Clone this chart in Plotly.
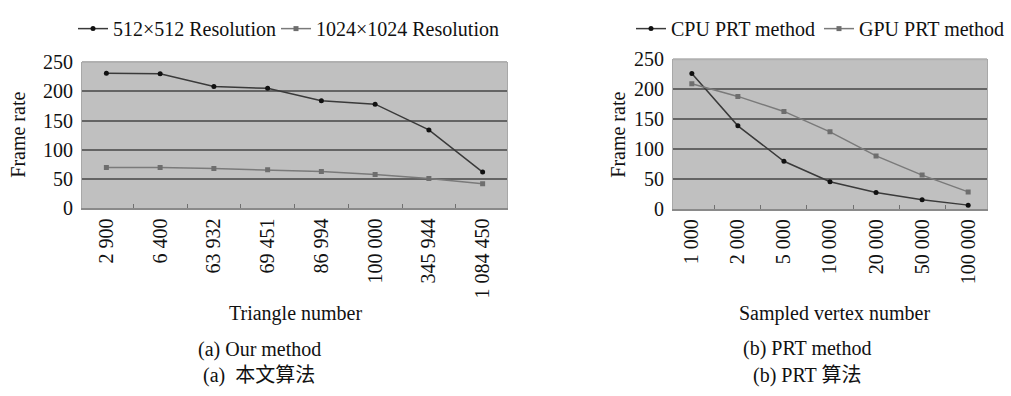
import plotly.graph_objects as go

W, H = 1011, 396

# ---- data ----
tri_labels = ["2 900", "6 400", "63 932", "69 451", "86 994", "100 000", "345 944", "1 084 450"]
res512 = [231, 230, 208, 205, 184, 178, 134, 62]
res1024 = [70, 70, 68, 66, 63, 58, 51, 42]

vtx_labels = ["1 000", "2 000", "5 000", "10 000", "20 000", "50 000", "100 000"]
cpu_prt = [226, 139, 80, 46, 28, 16, 7]
gpu_prt = [209, 188, 163, 129, 89, 57, 29]

FONT = "Liberation Serif, Times New Roman, Noto Sans CJK SC, serif"
DARK = "#3a3a3a"
LIGHT = "#7a7a7a"

def px(x):
    return x / W

def py(y):
    return 1 - y / H

fig = go.Figure()

fig.add_trace(go.Scatter(x=tri_labels, y=res512, mode="lines+markers", name="512×512 Resolution",
                         line=dict(color=DARK, width=1.5), marker=dict(symbol="circle", size=5, color="#111"),
                         xaxis="x", yaxis="y", legend="legend"))
fig.add_trace(go.Scatter(x=tri_labels, y=res1024, mode="lines+markers", name="1024×1024 Resolution",
                         line=dict(color=LIGHT, width=1.5), marker=dict(symbol="square", size=5, color="#6e6e6e"),
                         xaxis="x", yaxis="y", legend="legend3"))
fig.add_trace(go.Scatter(x=vtx_labels, y=cpu_prt, mode="lines+markers", name="CPU PRT method",
                         line=dict(color=DARK, width=1.5), marker=dict(symbol="circle", size=5, color="#111"),
                         xaxis="x2", yaxis="y2", legend="legend2"))
fig.add_trace(go.Scatter(x=vtx_labels, y=gpu_prt, mode="lines+markers", name="GPU PRT method",
                         line=dict(color=LIGHT, width=1.5), marker=dict(symbol="square", size=5, color="#6e6e6e"),
                         xaxis="x2", yaxis="y2", legend="legend4"))

xcommon = dict(type="category", showgrid=False, showline=True, linecolor="#8a8a8a", linewidth=2,
               mirror=False, ticks="inside", tickson="boundaries", ticklen=4, tickcolor="#707070",
               tickangle=-90, tickfont=dict(family=FONT, size=20, color="#111"), zeroline=False)
ycommon = dict(range=[0, 250], dtick=50, showgrid=True, gridcolor="#646464", gridwidth=1.5,
               showline=True, mirror=True, linecolor="#a8a8a8", linewidth=1,
               zeroline=False, ticks="", ticklabelstandoff=4,
               tickfont=dict(family=FONT, size=20, color="#111"))

def leg(x):
    return dict(orientation="h", x=px(x), y=py(-2), xanchor="left", yanchor="top",
                font=dict(family=FONT, size=20, color="#111"), itemwidth=30,
                bgcolor="rgba(0,0,0,0)", borderwidth=0)

fig.update_layout(
    width=W, height=H, margin=dict(l=0, r=0, t=0, b=0),
    paper_bgcolor="white", plot_bgcolor="#c0c0c0",
    showlegend=True,
    xaxis=dict(domain=[px(82), px(507)], anchor="y", **xcommon),
    yaxis=dict(domain=[py(209), py(54)], anchor="x", **ycommon),
    xaxis2=dict(domain=[px(673), px(987)], anchor="y2", **xcommon),
    yaxis2=dict(domain=[py(210), py(51)], anchor="x2", **ycommon),
    legend=leg(73),
    legend3=leg(276),
    legend2=leg(631),
    legend4=leg(819),
)

# light top edge of each plot area (covers the 250 grid line)
for xr, yr in (("x domain", "y domain"), ("x2 domain", "y2 domain")):
    fig.add_shape(type="line", xref=xr, yref=yr, x0=0, x1=1, y0=1, y1=1,
                  line=dict(color="#b0b0b0", width=2), layer="above")

ann = [
    ("Frame rate", 18, 131, -90),
    ("Frame rate", 618, 131, -90),
    ("Triangle number", 295, 320, 0),
    ("Sampled vertex number", 834, 320, 0),
    ("(a) Our method", 259, 358, 0),
    ("(a)  本文算法", 259, 386, 0),
    ("(b) PRT method", 807, 357, 0),
    ("(b) PRT 算法", 807, 386, 0),
]
for text, x, y, ang in ann:
    fig.add_annotation(text=text, x=px(x), y=py(y), xref="paper", yref="paper",
                       xanchor="center", yanchor="middle", showarrow=False, textangle=ang,
                       font=dict(family=FONT, size=20, color="#111"))

fig.write_html("out.html", config={"displayModeBar": False},
               post_script="document.body.style.margin='0';")
